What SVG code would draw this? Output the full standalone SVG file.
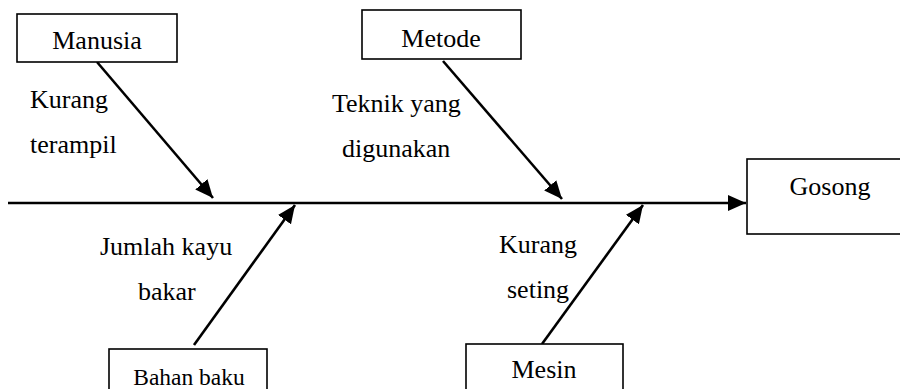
<svg xmlns="http://www.w3.org/2000/svg" width="900" height="389" viewBox="0 0 900 389">
<style>
.box{fill:#fff;stroke:#000;stroke-width:1.6}
.t{font-family:"Liberation Serif","Times New Roman",serif;font-size:26px;fill:#000}
.c{stroke:#000;stroke-width:2.6;fill:none}
</style>
<defs>
<marker id="ah" markerUnits="userSpaceOnUse" markerWidth="20" markerHeight="16" refX="18" refY="8" orient="auto" viewBox="0 0 20 16">
<path d="M0,0 L18,8 L0,16 Z" fill="#000"/>
</marker>
</defs>
<rect width="900" height="389" fill="#fff"/>
<g id="connectors">
<line class="c" x1="8" y1="203" x2="746" y2="203" marker-end="url(#ah)"/>
<line class="c" x1="97" y1="62" x2="213" y2="198" marker-end="url(#ah)"/>
<line class="c" x1="443" y1="61" x2="562" y2="199" marker-end="url(#ah)"/>
<line class="c" x1="194" y1="345" x2="295" y2="205" marker-end="url(#ah)"/>
<line class="c" x1="542" y1="344" x2="643" y2="205" marker-end="url(#ah)"/>
</g>
<g id="manusia">
<rect class="box" x="17" y="14" width="160" height="48"/>
<text class="t" x="97" y="49" text-anchor="middle">Manusia</text>
</g>
<g id="metode">
<rect class="box" x="362" y="10" width="159" height="49"/>
<text class="t" x="441" y="47" text-anchor="middle">Metode</text>
</g>
<g id="gosong">
<rect class="box" x="747" y="159" width="170" height="75"/>
<text class="t" x="830" y="195" text-anchor="middle">Gosong</text>
</g>
<g id="bahan-baku">
<rect class="box" x="109" y="349" width="158" height="60"/>
<text class="t" x="189" y="385" text-anchor="middle" style="font-size:23.5px">Bahan baku</text>
</g>
<g id="mesin">
<rect class="box" x="466" y="344" width="157" height="60"/>
<text class="t" x="544" y="378" text-anchor="middle">Mesin</text>
</g>
<g id="labels">
<text class="t" x="30" y="108">Kurang</text>
<text class="t" x="30" y="153">terampil</text>
<text class="t" x="332" y="112">Teknik yang</text>
<text class="t" x="342" y="157">digunakan</text>
<text class="t" x="100" y="255">Jumlah kayu</text>
<text class="t" x="138" y="300">bakar</text>
<text class="t" x="499" y="253">Kurang</text>
<text class="t" x="507" y="298">seting</text>
</g>
</svg>
